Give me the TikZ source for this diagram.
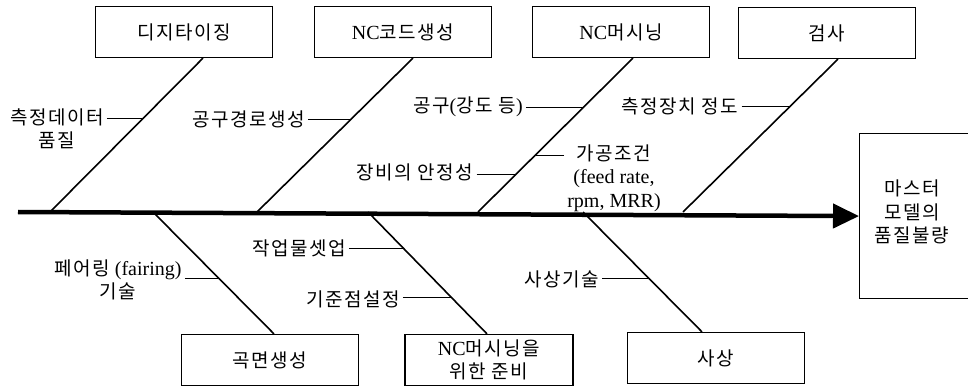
\documentclass[tikz,border=0pt]{standalone}
\usepackage{fontspec}
\setmainfont{Liberation Serif}
\newfontfamily\kr{Noto Sans CJK KR}[Scale=0.95, LetterSpace=8]
\usetikzlibrary{arrows.meta}
\tikzset{
  cause/.style={draw, line width=1.2pt, minimum width=177pt, minimum height=51pt, inner sep=0pt, align=center},
  bone/.style={line width=1.6pt},
  twig/.style={line width=0.9pt},
  lbl/.style={inner sep=3pt, align=center}
}
\begin{document}
\begin{tikzpicture}[x=1pt, y=-1pt, font=\fontsize{20}{23.5}\selectfont]
    \useasboundingbox (0,0) rectangle (968,387);
    % effect
    \node[cause, minimum width=120pt, minimum height=165pt, anchor=north west] (res) at (859,133) {};
    \node[lbl] (restxt) at (912,212) {{\kr 마스터}\\{\kr 모델의}\\{\kr 품질불량}};
    \coordinate (m0) at (18,212);
    \draw[line width=4.5pt, -{Triangle[length=26pt,width=24pt]}] (m0) -- (res.west);
    % causes
    \node[cause] (dig) at (184,32) {\kr 디지타이징};
    \node[cause] (ncc) at (403,32) {NC{\kr 코드생성}};
    \node[cause] (ncm) at (621,32) {NC{\kr 머시닝}};
    \node[cause] (ins) at (827,33) {\kr 검사};
    \node[cause] (srf) at (270,360) {\kr 곡면생성};
    \node[cause, minimum width=168pt] (prep) at (489,360) {NC{\kr 머시닝을}\\{\kr 위한 준비}};
    \node[cause] (fin) at (716,358) {\kr 사상};
    \foreach \n/\x in {1/50,2/257,3/478,4/683,5/153,6/368,7/583}
        \coordinate (m\n) at (\x,212);
    % bones
    \draw[bone] ([xshift=19pt]dig.south) -- coordinate[pos=.39] (k11) (m1);
    \draw[bone] ([xshift=10pt]ncc.south) -- coordinate[pos=.396] (k21) (m2);
    \draw[bone] ([xshift=12pt]ncm.south) -- coordinate[pos=.318] (k31) coordinate[pos=.63] (k32) coordinate[pos=.753] (k33) (m3);
    \draw[bone] ([xshift=11pt]ins.south) -- coordinate[pos=.312] (k41) (m4);
    \draw[bone] (m5) -- coordinate[pos=.549] (k51) ([xshift=4pt]srf.north);
    \draw[bone] (m6) -- coordinate[pos=.295] (k61) coordinate[pos=.697] (k62) ([xshift=-2pt]prep.north);
    \draw[bone] (m7) -- coordinate[pos=.554] (k71) ([xshift=-14pt]fin.north);
    % sub-causes
    \node[lbl] (t11) at (57,129) {{\kr 측정데이터}\\{\kr 품질}};
    \node[lbl] (t21) at (249,119) {\kr 공구경로생성};
    \node[lbl] (t31) at (468,107) {{\kr 공구}({\kr 강도 등})};
    \node[lbl] (t32) at (614,178) {{\kr 가공조건}\\(feed rate,\\rpm, MRR)};
    \node[lbl] (t33) at (415,172) {\kr 장비의 안정성};
    \node[lbl] (t41) at (680,106) {\kr 측정장치 정도};
    \node[lbl] (t51) at (118,280) {{\kr 페어링} (fairing)\\{\kr 기술}};
    \node[lbl] (t61) at (299,248) {\kr 작업물셋업};
    \node[lbl] (t62) at (353,299) {\kr 기준점설정};
    \node[lbl] (t71) at (562,279) {\kr 사상기술};
    \foreach \k/\t in {k11/t11,k21/t21,k31/t31,k33/t33,k41/t41,k51/t51,k61/t61,k62/t62,k71/t71}
        \draw[twig] (\k -| \t.east) -- (\k);
    \draw[twig] (k32 -| t32.west) -- (k32);
\end{tikzpicture}
\end{document}
